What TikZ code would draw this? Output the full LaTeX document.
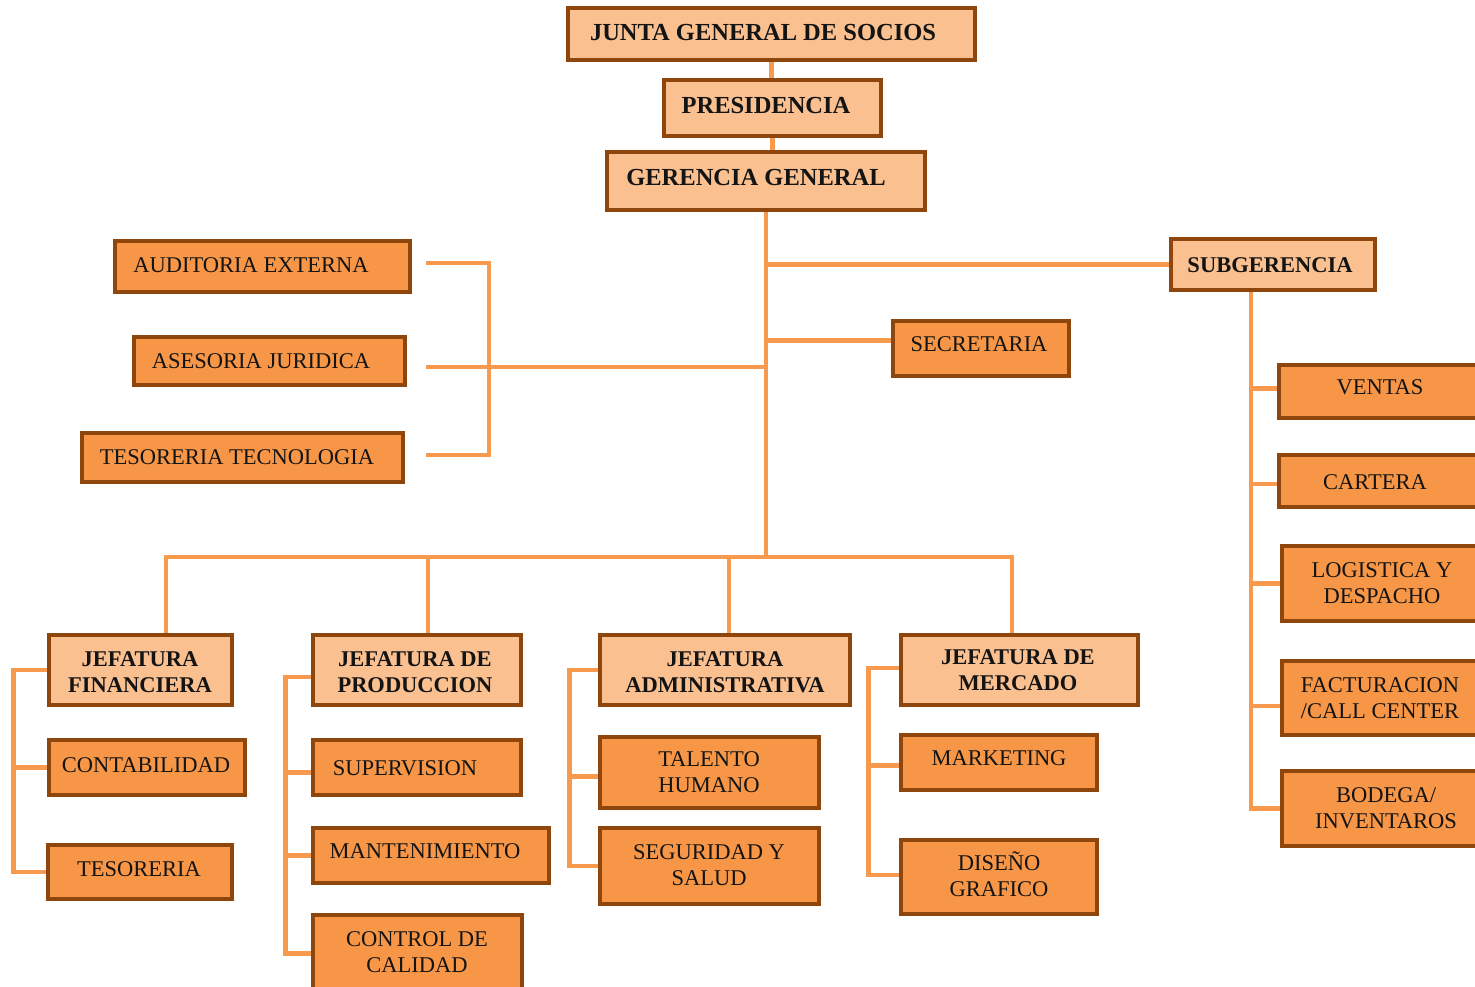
\documentclass[tikz,border=0pt]{standalone}
\usepackage{fontspec}
\setmainfont{Liberation Serif}
\usetikzlibrary{fit,backgrounds,calc}
\definecolor{lightor}{HTML}{FAC090}
\definecolor{darkor}{HTML}{F79646}
\definecolor{brd}{HTML}{8E460C}
\definecolor{conn}{HTML}{F79A4E}
\definecolor{ink}{HTML}{141414}
\tikzset{
  box/.style={draw=brd, line width=3.2pt, inner sep=0pt, rectangle},
  boxL/.style={box, fill=lightor},
  boxD/.style={box, fill=darkor},
  tbig/.style={text=ink, font=\fontsize{24.5}{28}\selectfont\bfseries, inner sep=0pt},
  tbold/.style={text=ink, font=\fontsize{22.5}{26}\selectfont\bfseries, inner sep=0pt, align=center},
  treg/.style={text=ink, font=\fontsize{22.5}{26}\selectfont, inner sep=0pt, align=center},
  con/.style={draw=conn, line width=4.5pt},
}
\begin{document}
\begin{tikzpicture}[x=1pt,y=-1pt]
\useasboundingbox (0,0) rectangle (1475,987);
\begin{scope}[on background layer]
  \fill[white] (0,0) rectangle (1475,987);
\end{scope}

% boxes
\node[boxL, fit={(568,8) (975,60)}] (junta) {};
\node[boxL, fit={(664,80) (881,136)}] (pres) {};
\node[boxL, fit={(607,152) (925,210)}] (ger) {};
\node[boxL, fit={(1171,239) (1375,290)}] (sub) {};
\node[boxD, fit={(893,321) (1069,376)}] (sec) {};
\node[boxD, fit={(115,241) (410,292)}] (aud) {};
\node[boxD, fit={(134,337) (405,385)}] (ase) {};
\node[boxD, fit={(82,433) (403,482)}] (tte) {};
\node[boxL, fit={(49,635) (232,705)}] (jf) {};
\node[boxD, fit={(49,740) (245,795)}] (cont) {};
\node[boxD, fit={(48,845) (232,899)}] (tes) {};
\node[boxL, fit={(313,635) (521,705)}] (jp) {};
\node[boxD, fit={(313,740) (521,795)}] (sup) {};
\node[boxD, fit={(313,828) (549,883)}] (mant) {};
\node[boxD, fit={(313,915) (522,1000)}] (cc) {};
\node[boxL, fit={(600,635) (850,705)}] (ja) {};
\node[boxD, fit={(600,737) (819,808)}] (tal) {};
\node[boxD, fit={(600,828) (819,904)}] (seg) {};
\node[boxL, fit={(901,635) (1138,705)}] (jm) {};
\node[boxD, fit={(901,735) (1097,790)}] (mkt) {};
\node[boxD, fit={(901,840) (1097,914)}] (dis) {};
\node[boxD, fit={(1279,365) (1490,418)}] (ven) {};
\node[boxD, fit={(1279,455) (1490,507)}] (car) {};
\node[boxD, fit={(1282,546) (1490,621)}] (log) {};
\node[boxD, fit={(1282,661) (1490,735)}] (fac) {};
\node[boxD, fit={(1282,771) (1490,846)}] (bod) {};

% texts
\node[tbig] (junta-t) at (763,33) {JUNTA GENERAL DE SOCIOS};
\node[tbig] (pres-t) at (766,106) {PRESIDENCIA};
\node[tbig] (ger-t) at (756,178) {GERENCIA GENERAL};
\node[tbold] (sub-t) at (1270,265) {SUBGERENCIA};
\node[treg] (sec-t) at (979,344) {SECRETARIA};
\node[treg] (aud-t) at (251,265) {AUDITORIA EXTERNA};
\node[treg] (ase-t) at (261,361) {ASESORIA JURIDICA};
\node[treg] (tte-t) at (237,457) {TESORERIA TECNOLOGIA};
\node[tbold] (jf-t) at (140,672) {JEFATURA\\FINANCIERA};
\node[treg] (cont-t) at (146,765) {CONTABILIDAD};
\node[treg] (tes-t) at (139,869) {TESORERIA};
\node[tbold] (jp-t) at (415,672) {JEFATURA DE\\PRODUCCION};
\node[treg] (sup-t) at (405,768) {SUPERVISION};
\node[treg] (mant-t) at (425,851) {MANTENIMIENTO};
\node[treg] (cc-t) at (417,952) {CONTROL DE\\CALIDAD};
\node[tbold] (ja-t) at (725,672) {JEFATURA\\ADMINISTRATIVA};
\node[treg] (tal-t) at (709,772) {TALENTO\\HUMANO};
\node[treg] (seg-t) at (709,865) {SEGURIDAD Y\\SALUD};
\node[tbold] (jm-t) at (1018,670) {JEFATURA DE\\MERCADO};
\node[treg] (mkt-t) at (999,758) {MARKETING};
\node[treg] (dis-t) at (999,874) {DISEÑO\\GRAFICO};
\node[treg] (ven-t) at (1380,387) {VENTAS};
\node[treg] (car-t) at (1375,482) {CARTERA};
\node[treg] (log-t) at (1382,583) {LOGISTICA Y\\DESPACHO};
\node[treg] (fac-t) at (1380,698) {FACTURACION\\/CALL CENTER};
\node[treg] (bod-t) at (1386,808) {BODEGA/\\INVENTAROS};

% connectors
\begin{scope}[on background layer]
  \draw[con] (junta.south) -- (junta.south |- pres.north);
  \draw[con] (pres.south) -- (pres.south |- ger.north);
  \coordinate (bus) at (766,557);
  \draw[con] (ger.south) -- (bus);
  \draw[con] (ger.south |- sub.west) -- (sub.west);
  \draw[con] ([yshift=8pt]sec.west -| ger.south) -- ([yshift=8pt]sec.west);
  % left bracket
  \coordinate (a1) at (426,263);
  \coordinate (a2) at (426,367);
  \coordinate (a3) at (426,455);
  \draw[con] (a1) -- ++(63,0) |- (a3);
  \draw[con] (a2) -- (a2 -| bus);
  % bottom bus
  \draw[con] ([xshift=25.5pt]jf.north) |- (bus) -| ([xshift=-7.5pt]jm.north);
  \draw[con] ([xshift=11pt]jp.north) -- ([xshift=11pt]jp.north |- bus);
  \draw[con] ([xshift=4pt]ja.north) -- ([xshift=4pt]ja.north |- bus);
  % groups
  \draw[con] (jf.west) -- ++(-34,0) coordinate (fb) |- (tes.west);
  \draw[con] (cont.west) -- (cont.west -| fb);
  \draw[con] ([yshift=-7pt]jp.west) -- ++(-26,0) coordinate (pb) |- ([yshift=4pt]cc.west);
  \draw[con] ([yshift=-5pt]sup.west) -- ([yshift=-5pt]sup.west -| pb);
  \draw[con] (mant.west) -- (mant.west -| pb);
  \draw[con] (ja.west) -- ++(-29,0) coordinate (ab) |- (seg.west);
  \draw[con] ([yshift=-4pt]tal.west) -- ([yshift=-4pt]tal.west -| ab);
  \draw[con] ([yshift=2pt]jm.west) -- ++(-31,0) coordinate (mb) |- ([yshift=2pt]dis.west);
  \draw[con] ([yshift=-3pt]mkt.west) -- ([yshift=-3pt]mkt.west -| mb);
  % right
  \coordinate (sb) at ([xshift=-22pt]sub.south);
  \draw[con] (sb) |- (bod.west);
  \draw[con] ([yshift=3pt]ven.west) -- ([yshift=3pt]ven.west -| sb);
  \draw[con] ([yshift=-3pt]car.west) -- ([yshift=-3pt]car.west -| sb);
  \draw[con] (log.west) -- (log.west -| sb);
  \draw[con] ([yshift=-8pt]fac.west) -- ([yshift=-8pt]fac.west -| sb);
\end{scope}
\end{tikzpicture}
\end{document}
